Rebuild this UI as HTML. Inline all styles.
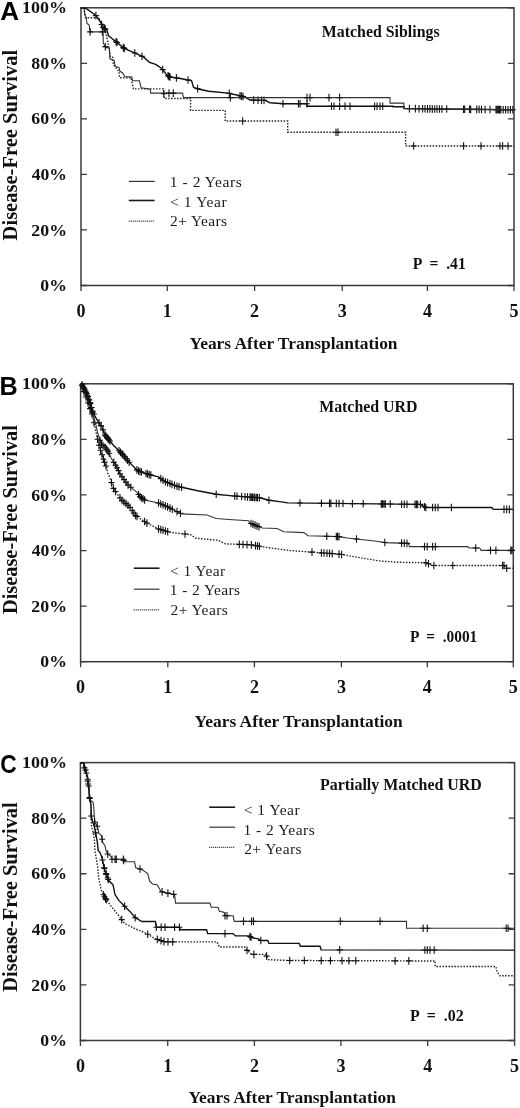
<!DOCTYPE html>
<html><head><meta charset="utf-8"><style>
html,body{margin:0;padding:0;background:#fff;}
svg{display:block;filter:grayscale(100%);}
.sb,.sr{font-family:"Liberation Serif", serif;}
.nb{font-family:"Liberation Sans", sans-serif;}
</style></head><body>
<svg width="520" height="1108" viewBox="0 0 520 1108">
<rect width="520" height="1108" fill="#fff"/>
<rect x="81" y="7.8" width="433" height="277.7" fill="none" stroke="#3a3a3a" stroke-width="1.5"/>
<path d="M81,285.5h6M514,285.5h-6" stroke="#3a3a3a" stroke-width="1.3"/>
<text x="40.39" y="291.1" font-size="17.5" font-weight="bold" class="sb" fill="#111" textLength="26.59" lengthAdjust="spacingAndGlyphs" xml:space="preserve">0%</text>
<path d="M81,229.96h6M514,229.96h-6" stroke="#3a3a3a" stroke-width="1.3"/>
<text x="31.29" y="235.56" font-size="17.5" font-weight="bold" class="sb" fill="#111" textLength="35.71" lengthAdjust="spacingAndGlyphs" xml:space="preserve">20%</text>
<path d="M81,174.42h6M514,174.42h-6" stroke="#3a3a3a" stroke-width="1.3"/>
<text x="31.74" y="180.02" font-size="17.5" font-weight="bold" class="sb" fill="#111" textLength="35.24" lengthAdjust="spacingAndGlyphs" xml:space="preserve">40%</text>
<path d="M81,118.88h6M514,118.88h-6" stroke="#3a3a3a" stroke-width="1.3"/>
<text x="31.38" y="124.48" font-size="17.5" font-weight="bold" class="sb" fill="#111" textLength="35.61" lengthAdjust="spacingAndGlyphs" xml:space="preserve">60%</text>
<path d="M81,63.34h6M514,63.34h-6" stroke="#3a3a3a" stroke-width="1.3"/>
<text x="31.38" y="68.94" font-size="17.5" font-weight="bold" class="sb" fill="#111" textLength="35.61" lengthAdjust="spacingAndGlyphs" xml:space="preserve">80%</text>
<path d="M81,7.8h6M514,7.8h-6" stroke="#3a3a3a" stroke-width="1.3"/>
<text x="22.06" y="13.4" font-size="17.5" font-weight="bold" class="sb" fill="#111" textLength="44.95" lengthAdjust="spacingAndGlyphs" xml:space="preserve">100%</text>
<path d="M81,285.5v5.5" stroke="#3a3a3a" stroke-width="1.3"/>
<text x="81" y="317.2" font-size="18" font-weight="bold" class="sb" fill="#111" text-anchor="middle">0</text>
<path d="M167.3,285.5v5.5" stroke="#3a3a3a" stroke-width="1.3"/>
<text x="167.3" y="317.2" font-size="18" font-weight="bold" class="sb" fill="#111" text-anchor="middle">1</text>
<path d="M254.6,285.5v5.5" stroke="#3a3a3a" stroke-width="1.3"/>
<text x="254.6" y="317.2" font-size="18" font-weight="bold" class="sb" fill="#111" text-anchor="middle">2</text>
<path d="M342.2,285.5v5.5" stroke="#3a3a3a" stroke-width="1.3"/>
<text x="342.2" y="317.2" font-size="18" font-weight="bold" class="sb" fill="#111" text-anchor="middle">3</text>
<path d="M427.4,285.5v5.5" stroke="#3a3a3a" stroke-width="1.3"/>
<text x="427.4" y="317.2" font-size="18" font-weight="bold" class="sb" fill="#111" text-anchor="middle">4</text>
<path d="M514,285.5v5.5" stroke="#3a3a3a" stroke-width="1.3"/>
<text x="514" y="317.2" font-size="18" font-weight="bold" class="sb" fill="#111" text-anchor="middle">5</text>
<text x="0.35" y="19.7" font-size="25" font-weight="bold" class="nb" fill="#000" textLength="18.86" lengthAdjust="spacingAndGlyphs" xml:space="preserve">A</text>
<text x="189.54" y="348.6" font-size="17" font-weight="bold" class="sb" fill="#111" textLength="208.02" lengthAdjust="spacingAndGlyphs" xml:space="preserve">Years After Transplantation</text>
<text transform="translate(16.7,240.41) rotate(-90)" x="0" y="0" font-size="21" font-weight="bold" class="sb" fill="#111" textLength="190.72" lengthAdjust="spacingAndGlyphs">Disease-Free Survival</text>
<text x="321.86" y="37.3" font-size="16" font-weight="bold" class="sb" fill="#111" textLength="117.7" lengthAdjust="spacingAndGlyphs" xml:space="preserve">Matched Siblings</text>
<text x="412.86" y="268.9" font-size="16" font-weight="bold" class="sb" fill="#111" textLength="52.93" lengthAdjust="spacingAndGlyphs" xml:space="preserve">P  =  .41</text>
<line x1="128.8" y1="181.4" x2="154.6" y2="181.4" stroke="#333" stroke-width="1.2"/>
<text x="169.77" y="186.9" font-size="15.5" font-weight="normal" class="sr" fill="#1a1a1a" textLength="71.98" lengthAdjust="spacing" xml:space="preserve">1 - 2 Years</text>
<line x1="128.8" y1="200.5" x2="154.6" y2="200.5" stroke="#1a1a1a" stroke-width="1.6"/>
<text x="169.96" y="206.6" font-size="15.5" font-weight="normal" class="sr" fill="#1a1a1a" textLength="56.7" lengthAdjust="spacing" xml:space="preserve">&lt; 1 Year</text>
<line x1="128.8" y1="221.1" x2="154.6" y2="221.1" stroke="#222" stroke-width="1.4" stroke-dasharray="1 1"/>
<text x="170.07" y="226.2" font-size="15.5" font-weight="normal" class="sr" fill="#1a1a1a" textLength="56.98" lengthAdjust="spacing" xml:space="preserve">2+ Years</text>
<rect x="80.6" y="383.8" width="432.7" height="277.9" fill="none" stroke="#3a3a3a" stroke-width="1.5"/>
<path d="M80.6,661.7h6M513.3,661.7h-6" stroke="#3a3a3a" stroke-width="1.3"/>
<text x="40.39" y="667.3" font-size="17.5" font-weight="bold" class="sb" fill="#111" textLength="26.59" lengthAdjust="spacingAndGlyphs" xml:space="preserve">0%</text>
<path d="M80.6,606.12h6M513.3,606.12h-6" stroke="#3a3a3a" stroke-width="1.3"/>
<text x="31.29" y="611.72" font-size="17.5" font-weight="bold" class="sb" fill="#111" textLength="35.71" lengthAdjust="spacingAndGlyphs" xml:space="preserve">20%</text>
<path d="M80.6,550.54h6M513.3,550.54h-6" stroke="#3a3a3a" stroke-width="1.3"/>
<text x="31.74" y="556.14" font-size="17.5" font-weight="bold" class="sb" fill="#111" textLength="35.24" lengthAdjust="spacingAndGlyphs" xml:space="preserve">40%</text>
<path d="M80.6,494.96h6M513.3,494.96h-6" stroke="#3a3a3a" stroke-width="1.3"/>
<text x="31.38" y="500.56" font-size="17.5" font-weight="bold" class="sb" fill="#111" textLength="35.61" lengthAdjust="spacingAndGlyphs" xml:space="preserve">60%</text>
<path d="M80.6,439.38h6M513.3,439.38h-6" stroke="#3a3a3a" stroke-width="1.3"/>
<text x="31.38" y="444.98" font-size="17.5" font-weight="bold" class="sb" fill="#111" textLength="35.61" lengthAdjust="spacingAndGlyphs" xml:space="preserve">80%</text>
<path d="M80.6,383.8h6M513.3,383.8h-6" stroke="#3a3a3a" stroke-width="1.3"/>
<text x="22.06" y="389.4" font-size="17.5" font-weight="bold" class="sb" fill="#111" textLength="44.95" lengthAdjust="spacingAndGlyphs" xml:space="preserve">100%</text>
<path d="M80.6,661.7v5.5" stroke="#3a3a3a" stroke-width="1.3"/>
<text x="80.6" y="692.8" font-size="18" font-weight="bold" class="sb" fill="#111" text-anchor="middle">0</text>
<path d="M167.8,661.7v5.5" stroke="#3a3a3a" stroke-width="1.3"/>
<text x="167.8" y="692.8" font-size="18" font-weight="bold" class="sb" fill="#111" text-anchor="middle">1</text>
<path d="M254.4,661.7v5.5" stroke="#3a3a3a" stroke-width="1.3"/>
<text x="254.4" y="692.8" font-size="18" font-weight="bold" class="sb" fill="#111" text-anchor="middle">2</text>
<path d="M341.4,661.7v5.5" stroke="#3a3a3a" stroke-width="1.3"/>
<text x="341.4" y="692.8" font-size="18" font-weight="bold" class="sb" fill="#111" text-anchor="middle">3</text>
<path d="M427.3,661.7v5.5" stroke="#3a3a3a" stroke-width="1.3"/>
<text x="427.3" y="692.8" font-size="18" font-weight="bold" class="sb" fill="#111" text-anchor="middle">4</text>
<path d="M513.3,661.7v5.5" stroke="#3a3a3a" stroke-width="1.3"/>
<text x="513.3" y="692.8" font-size="18" font-weight="bold" class="sb" fill="#111" text-anchor="middle">5</text>
<text x="-0.44" y="394.6" font-size="25" font-weight="bold" class="nb" fill="#000" textLength="18.23" lengthAdjust="spacingAndGlyphs" xml:space="preserve">B</text>
<text x="194.54" y="726.8" font-size="17" font-weight="bold" class="sb" fill="#111" textLength="208.22" lengthAdjust="spacingAndGlyphs" xml:space="preserve">Years After Transplantation</text>
<text transform="translate(16.7,614.01) rotate(-90)" x="0" y="0" font-size="21" font-weight="bold" class="sb" fill="#111" textLength="188.91" lengthAdjust="spacingAndGlyphs">Disease-Free Survival</text>
<text x="319.16" y="411.9" font-size="16" font-weight="bold" class="sb" fill="#111" textLength="98.31" lengthAdjust="spacingAndGlyphs" xml:space="preserve">Matched URD</text>
<text x="409.97" y="641.5" font-size="16" font-weight="bold" class="sb" fill="#111" textLength="67.31" lengthAdjust="spacingAndGlyphs" xml:space="preserve">P  =  .0001</text>
<line x1="133.8" y1="568.2" x2="159.5" y2="568.2" stroke="#1a1a1a" stroke-width="1.6"/>
<text x="169.98" y="576.2" font-size="15.5" font-weight="normal" class="sr" fill="#1a1a1a" textLength="55.18" lengthAdjust="spacing" xml:space="preserve">&lt; 1 Year</text>
<line x1="133.8" y1="589.2" x2="159.5" y2="589.2" stroke="#333" stroke-width="1.2"/>
<text x="169.8" y="595.1" font-size="15.5" font-weight="normal" class="sr" fill="#1a1a1a" textLength="70.34" lengthAdjust="spacing" xml:space="preserve">1 - 2 Years</text>
<line x1="133.8" y1="609.9" x2="159.5" y2="609.9" stroke="#222" stroke-width="1.4" stroke-dasharray="1 1"/>
<text x="170.46" y="614.6" font-size="15.5" font-weight="normal" class="sr" fill="#1a1a1a" textLength="57.39" lengthAdjust="spacing" xml:space="preserve">2+ Years</text>
<rect x="80.4" y="762.6" width="434.2" height="277.9" fill="none" stroke="#3a3a3a" stroke-width="1.5"/>
<path d="M80.4,1040.5h6M514.6,1040.5h-6" stroke="#3a3a3a" stroke-width="1.3"/>
<text x="40.39" y="1046.1" font-size="17.5" font-weight="bold" class="sb" fill="#111" textLength="26.59" lengthAdjust="spacingAndGlyphs" xml:space="preserve">0%</text>
<path d="M80.4,984.92h6M514.6,984.92h-6" stroke="#3a3a3a" stroke-width="1.3"/>
<text x="31.29" y="990.52" font-size="17.5" font-weight="bold" class="sb" fill="#111" textLength="35.71" lengthAdjust="spacingAndGlyphs" xml:space="preserve">20%</text>
<path d="M80.4,929.34h6M514.6,929.34h-6" stroke="#3a3a3a" stroke-width="1.3"/>
<text x="31.74" y="934.94" font-size="17.5" font-weight="bold" class="sb" fill="#111" textLength="35.24" lengthAdjust="spacingAndGlyphs" xml:space="preserve">40%</text>
<path d="M80.4,873.76h6M514.6,873.76h-6" stroke="#3a3a3a" stroke-width="1.3"/>
<text x="31.38" y="879.36" font-size="17.5" font-weight="bold" class="sb" fill="#111" textLength="35.61" lengthAdjust="spacingAndGlyphs" xml:space="preserve">60%</text>
<path d="M80.4,818.18h6M514.6,818.18h-6" stroke="#3a3a3a" stroke-width="1.3"/>
<text x="31.38" y="823.78" font-size="17.5" font-weight="bold" class="sb" fill="#111" textLength="35.61" lengthAdjust="spacingAndGlyphs" xml:space="preserve">80%</text>
<path d="M80.4,762.6h6M514.6,762.6h-6" stroke="#3a3a3a" stroke-width="1.3"/>
<text x="22.06" y="768.2" font-size="17.5" font-weight="bold" class="sb" fill="#111" textLength="44.95" lengthAdjust="spacingAndGlyphs" xml:space="preserve">100%</text>
<path d="M80.4,1040.5v5.5" stroke="#3a3a3a" stroke-width="1.3"/>
<text x="80.4" y="1071.5" font-size="18" font-weight="bold" class="sb" fill="#111" text-anchor="middle">0</text>
<path d="M167.7,1040.5v5.5" stroke="#3a3a3a" stroke-width="1.3"/>
<text x="167.7" y="1071.5" font-size="18" font-weight="bold" class="sb" fill="#111" text-anchor="middle">1</text>
<path d="M254.4,1040.5v5.5" stroke="#3a3a3a" stroke-width="1.3"/>
<text x="254.4" y="1071.5" font-size="18" font-weight="bold" class="sb" fill="#111" text-anchor="middle">2</text>
<path d="M340.9,1040.5v5.5" stroke="#3a3a3a" stroke-width="1.3"/>
<text x="340.9" y="1071.5" font-size="18" font-weight="bold" class="sb" fill="#111" text-anchor="middle">3</text>
<path d="M427.7,1040.5v5.5" stroke="#3a3a3a" stroke-width="1.3"/>
<text x="427.7" y="1071.5" font-size="18" font-weight="bold" class="sb" fill="#111" text-anchor="middle">4</text>
<path d="M514.6,1040.5v5.5" stroke="#3a3a3a" stroke-width="1.3"/>
<text x="514.6" y="1071.5" font-size="18" font-weight="bold" class="sb" fill="#111" text-anchor="middle">5</text>
<text x="0.29" y="773.1" font-size="25" font-weight="bold" class="nb" fill="#000" textLength="16.43" lengthAdjust="spacingAndGlyphs" xml:space="preserve">C</text>
<text x="188.44" y="1102.7" font-size="17" font-weight="bold" class="sb" fill="#111" textLength="207.42" lengthAdjust="spacingAndGlyphs" xml:space="preserve">Years After Transplantation</text>
<text transform="translate(16.7,991.71) rotate(-90)" x="0" y="0" font-size="21" font-weight="bold" class="sb" fill="#111" textLength="189.42" lengthAdjust="spacingAndGlyphs">Disease-Free Survival</text>
<text x="319.96" y="790.4" font-size="16" font-weight="bold" class="sb" fill="#111" textLength="161.93" lengthAdjust="spacingAndGlyphs" xml:space="preserve">Partially Matched URD</text>
<text x="409.96" y="1021" font-size="16" font-weight="bold" class="sb" fill="#111" textLength="53.68" lengthAdjust="spacingAndGlyphs" xml:space="preserve">P  =  .02</text>
<line x1="209.2" y1="807.2" x2="235.1" y2="807.2" stroke="#1a1a1a" stroke-width="1.6"/>
<text x="243.67" y="815.2" font-size="15.5" font-weight="normal" class="sr" fill="#1a1a1a" textLength="55.99" lengthAdjust="spacing" xml:space="preserve">&lt; 1 Year</text>
<line x1="209.2" y1="827.2" x2="235.1" y2="827.2" stroke="#333" stroke-width="1.2"/>
<text x="243.48" y="834.6" font-size="15.5" font-weight="normal" class="sr" fill="#1a1a1a" textLength="71.26" lengthAdjust="spacing" xml:space="preserve">1 - 2 Years</text>
<line x1="209.2" y1="847.4" x2="235.1" y2="847.4" stroke="#222" stroke-width="1.4" stroke-dasharray="1 1"/>
<text x="244.16" y="853.7" font-size="15.5" font-weight="normal" class="sr" fill="#1a1a1a" textLength="57.49" lengthAdjust="spacing" xml:space="preserve">2+ Years</text>
<path d="M80.5,8 86,8.5 95.4,15 100,21.2 103,27.3 106.9,30.4 108.5,35.8 112.3,38.8 116.2,41.9 124.1,48.3 135.7,53.4 143.4,56.9 149.5,62.3 155.7,64.3 161.8,68.5 166.5,74.6 169.5,76.9 180.3,78.5 188,80 191.5,80.6 193.5,87.3 199.2,89.2 208.8,91.2 228,93.1 239,95.5 245,97 250,100 265,100.4 270,102.7 284,103.8 307,103.8 307,106.3 393,106.3 393,106.8 404,106.8 404,108.5 440,109 514,109.8" fill="none" stroke="#111" stroke-width="1.4"/>
<path d="M95.9,11.87v7.6M92.9,15.67h6M101.6,20.65v7.6M98.6,24.45h6M103,23.5v7.6M100,27.3h6M104.5,24.69v7.6M101.5,28.49h6M105.3,25.33v7.6M102.3,29.13h6M116,37.94v7.6M113,41.74h6M117,38.75v7.6M114,42.55h6M123.3,43.85v7.6M120.3,47.65h6M124.3,44.59v7.6M121.3,48.39h6M134.8,49.2v7.6M131.8,53h6M142,52.46v7.6M139,56.26h6M162.7,65.87v7.6M159.7,69.67h6M168,71.95v7.6M165,75.75h6M169,72.72v7.6M166,76.52h6M170,73.17v7.6M167,76.97h6M176.4,74.12v7.6M173.4,77.92h6M188,76.2v7.6M185,80h6M197.6,84.87v7.6M194.6,88.67h6M229.3,89.58v7.6M226.3,93.38h6M240,91.95v7.6M237,95.75h6M241.5,92.33v7.6M238.5,96.12h6M243,92.7v7.6M240,96.5h6M253.7,96.3v7.6M250.7,100.1h6M258,96.41v7.6M255,100.21h6M261.5,96.51v7.6M258.5,100.31h6M264,96.57v7.6M261,100.37h6M283,99.92v7.6M280,103.72h6M298.5,100v7.6M295.5,103.8h6M300,100v7.6M297,103.8h6M307,100v7.6M304,103.8h6M331.5,102.5v7.6M328.5,106.3h6M334,102.5v7.6M331,106.3h6M339.6,102.5v7.6M336.6,106.3h6M345,102.5v7.6M342,106.3h6M350,102.5v7.6M347,106.3h6M374.6,102.5v7.6M371.6,106.3h6M377,102.5v7.6M374,106.3h6M380,102.5v7.6M377,106.3h6M382.7,102.5v7.6M379.7,106.3h6M409.4,104.78v7.6M406.4,108.58h6M415.4,104.86v7.6M412.4,108.66h6M419,104.91v7.6M416,108.71h6M422.6,104.96v7.6M419.6,108.76h6M425,104.99v7.6M422,108.79h6M427.5,105.03v7.6M424.5,108.83h6M429.9,105.06v7.6M426.9,108.86h6M432.3,105.09v7.6M429.3,108.89h6M434.7,105.13v7.6M431.7,108.93h6M437,105.16v7.6M434,108.96h6M439.5,105.19v7.6M436.5,108.99h6M441.9,105.22v7.6M438.9,109.02h6M446.7,105.27v7.6M443.7,109.07h6M463.5,105.45v7.6M460.5,109.25h6M464.7,105.47v7.6M461.7,109.27h6M469.5,105.52v7.6M466.5,109.32h6M470.7,105.53v7.6M467.7,109.33h6M476.7,105.6v7.6M473.7,109.4h6M479.1,105.62v7.6M476.1,109.42h6M481.5,105.65v7.6M478.5,109.45h6M485.1,105.69v7.6M482.1,109.49h6M490,105.74v7.6M487,109.54h6M496,105.81v7.6M493,109.61h6M497.2,105.82v7.6M494.2,109.62h6M498.4,105.83v7.6M495.4,109.63h6M499.6,105.84v7.6M496.6,109.64h6M500.8,105.86v7.6M497.8,109.66h6M503.2,105.88v7.6M500.2,109.68h6M505.6,105.91v7.6M502.6,109.71h6M508,105.94v7.6M505,109.74h6M510.4,105.96v7.6M507.4,109.76h6M512.8,105.99v7.6M509.8,109.79h6" stroke="#111" stroke-width="1.1" fill="none"/>
<path d="M80.5,8 84.2,8.5 84.6,14.2 86.2,17.3 86.9,23.5 89.2,25 90,31.9 103.1,31.9 103.3,43 105.7,47.4 109.4,48.2 109.9,58.8 114.2,60.7 115.2,66.5 119,67.4 120,71.3 122.9,73.2 124.8,76.5 131.8,76.9 132.6,80.8 139.5,80.8 141.1,87.7 150.3,89.2 150.8,93.1 182.6,93.1 183.4,97.6 390,97.6 390,103.1 403.8,103.1 403.8,108.5 514,109.8" fill="none" stroke="#333" stroke-width="1.1"/>
<path d="M90.1,28.1v7.6M87.1,31.9h6M102.4,28.1v7.6M99.4,31.9h6M105.3,42.87v7.6M102.3,46.67h6M169,89.3v7.6M166,93.1h6M173.3,89.3v7.6M170.3,93.1h6M230.4,93.8v7.6M227.4,97.6h6M307,93.8v7.6M304,97.6h6M310,93.8v7.6M307,97.6h6M329,93.8v7.6M326,97.6h6M339.6,93.8v7.6M336.6,97.6h6" stroke="#111" stroke-width="1.1" fill="none"/>
<path d="M80.5,8 84,8.5 85.5,17.7 99,17.7 101,24 105.6,31.8 107.5,40.5 109.4,50.1 110.4,56.8 112.8,57.3 113.3,64.5 119,71.3 119.5,77.7 131,77.7 133.4,88.9 163.4,88.9 164.2,98.5 190.6,98.5 190.6,110.4 225.2,110.4 225.2,121 287.7,121 287.7,132.3 405.6,132.3 405.6,146 514,146" fill="none" stroke="#222" stroke-width="1.4" stroke-dasharray="1.5 1.5"/>
<path d="M163.8,89.9v7.6M160.8,93.7h6M242.7,117.2v7.6M239.7,121h6M336,128.5v7.6M333,132.3h6M338,128.5v7.6M335,132.3h6M413.7,142.2v7.6M410.7,146h6M463.6,142.2v7.6M460.6,146h6M481,142.2v7.6M478,146h6M500,142.2v7.6M497,146h6M502.6,142.2v7.6M499.6,146h6M508,142.2v7.6M505,146h6" stroke="#111" stroke-width="1.1" fill="none"/>
<path d="M81,383.8 84,388 87,394 90,402 92.3,410 95,416.4 98.5,422.2 101.9,426.8 104.8,434.9 108.8,439.5 113.4,445.3 119.2,451 123.8,455.7 128.4,461.4 134.2,467.2 137.7,470.7 149.2,474.6 158.5,476.9 164.6,481.5 176.9,486.2 181.6,487.3 197.7,490.8 216.2,494.2 232.4,495.9 260,497.8 268.9,500.2 279.6,501.6 287.7,502.9 420.4,504.4 425.8,507.5 491.9,507.5 493.2,509.4 513.2,509.4" fill="none" stroke="#111" stroke-width="1.4"/>
<path d="M82,381.4v7.6M79,385.2h6M83.2,383.08v7.6M80.2,386.88h6M84.4,385v7.6M81.4,388.8h6M85.6,387.4v7.6M82.6,391.2h6M86.8,389.8v7.6M83.8,393.6h6M88,392.87v7.6M85,396.67h6M89.2,396.07v7.6M86.2,399.87h6M90.4,399.59v7.6M87.4,403.39h6M91.6,403.77v7.6M88.6,407.57h6M92.8,407.39v7.6M89.8,411.19h6M94,410.23v7.6M91,414.03h6M99,419.08v7.6M96,422.88h6M101,421.78v7.6M98,425.58h6M103,426.07v7.6M100,429.87h6M105,431.33v7.6M102,435.13h6M106,432.48v7.6M103,436.28h6M107,433.63v7.6M104,437.43h6M108,434.78v7.6M105,438.58h6M109,435.95v7.6M106,439.75h6M110,437.21v7.6M107,441.01h6M119,447v7.6M116,450.8h6M120.5,448.53v7.6M117.5,452.33h6M122,450.06v7.6M119,453.86h6M123,451.08v7.6M120,454.88h6M124.5,452.77v7.6M121.5,456.57h6M126,454.63v7.6M123,458.43h6M127.5,456.48v7.6M124.5,460.28h6M129.2,458.4v7.6M126.2,462.2h6M136.9,466.1v7.6M133.9,469.9h6M138.5,467.17v7.6M135.5,470.97h6M140,467.68v7.6M137,471.48h6M141.5,468.19v7.6M138.5,471.99h6M146,469.71v7.6M143,473.51h6M147.5,470.22v7.6M144.5,474.02h6M149.2,470.8v7.6M146.2,474.6h6M150.8,471.2v7.6M147.8,475h6M160.8,474.83v7.6M157.8,478.63h6M163,476.49v7.6M160,480.29h6M165.4,478.01v7.6M162.4,481.81h6M167.6,478.85v7.6M164.6,482.65h6M170,479.76v7.6M167,483.56h6M172,480.53v7.6M169,484.33h6M174.5,481.48v7.6M171.5,485.28h6M177,482.42v7.6M174,486.22h6M179,482.89v7.6M176,486.69h6M181.6,483.5v7.6M178.6,487.3h6M216.2,490.4v7.6M213.2,494.2h6M234.7,492.26v7.6M231.7,496.06h6M237,492.42v7.6M234,496.22h6M241.6,492.73v7.6M238.6,496.53h6M245,492.97v7.6M242,496.77h6M247.5,493.14v7.6M244.5,496.94h6M250,493.31v7.6M247,497.11h6M252.5,493.48v7.6M249.5,497.28h6M255,493.66v7.6M252,497.46h6M257.5,493.83v7.6M254.5,497.63h6M251.3,493.4v7.6M248.3,497.2h6M254,493.59v7.6M251,497.39h6M256.7,493.77v7.6M253.7,497.57h6M259.4,493.96v7.6M256.4,497.76h6M268.9,496.4v7.6M265.9,500.2h6M299.9,499.24v7.6M296.9,503.04h6M321.4,499.48v7.6M318.4,503.28h6M329.5,499.57v7.6M326.5,503.37h6M330.9,499.59v7.6M327.9,503.39h6M336.3,499.65v7.6M333.3,503.45h6M339,499.68v7.6M336,503.48h6M343,499.73v7.6M340,503.53h6M352.4,499.83v7.6M349.4,503.63h6M363.2,499.95v7.6M360.2,503.75h6M382.1,500.17v7.6M379.1,503.97h6M384.8,500.2v7.6M381.8,504h6M381.3,500.16v7.6M378.3,503.96h6M383.2,500.18v7.6M380.2,503.98h6M385.4,500.2v7.6M382.4,504h6M390.2,500.26v7.6M387.2,504.06h6M401.6,500.39v7.6M398.6,504.19h6M404.3,500.42v7.6M401.3,504.22h6M407,500.45v7.6M404,504.25h6M415,500.54v7.6M412,504.34h6M416.4,500.55v7.6M413.4,504.35h6M417.7,500.57v7.6M414.7,504.37h6M420.4,500.6v7.6M417.4,504.4h6M424.5,502.95v7.6M421.5,506.75h6M425.8,503.7v7.6M422.8,507.5h6M432.6,503.7v7.6M429.6,507.5h6M435.3,503.7v7.6M432.3,507.5h6M438,503.7v7.6M435,507.5h6M451.4,503.7v7.6M448.4,507.5h6M504,505.6v7.6M501,509.4h6M506.7,505.6v7.6M503.7,509.4h6M509.4,505.6v7.6M506.4,509.4h6" stroke="#111" stroke-width="1.1" fill="none"/>
<path d="M81,383.8 84,388.5 87,395 90,403 92.3,412.3 93.8,417.6 96.1,425.7 97.3,431.4 99,437.2 101.3,444.1 105.4,447.6 108.8,452.2 111.1,458 114.6,463.7 118.1,469.5 120,474 127.7,484.6 136.9,492.3 140,496.6 144.6,500 158.5,503 166.2,506.2 172.3,509.3 181.6,513.9 207,515 216.2,518.5 232.4,519.7 248.5,520.8 250,523.1 262.1,528 277,528.5 283.7,531.8 303.9,532.6 308,535.8 339,536.6 347,538 363.2,539.8 376.7,541.2 385.4,542.6 408.3,543.4 409.6,546.6 467.6,546.6 469,548 479.7,548 481.1,550.4 513.2,550.4" fill="none" stroke="#333" stroke-width="1.1"/>
<path d="M82,381.57v7.6M79,385.37h6M83.3,383.6v7.6M80.3,387.4h6M84.6,386v7.6M81.6,389.8h6M85.9,388.82v7.6M82.9,392.62h6M87.2,391.73v7.6M84.2,395.53h6M88.5,395.2v7.6M85.5,399h6M89.8,398.67v7.6M86.8,402.47h6M91.1,403.65v7.6M88.1,407.45h6M92.4,408.85v7.6M89.4,412.65h6M100,436.4v7.6M97,440.2h6M101.5,440.47v7.6M98.5,444.27h6M103,441.75v7.6M100,445.55h6M105,443.46v7.6M102,447.26h6M106.5,445.29v7.6M103.5,449.09h6M108,447.32v7.6M105,451.12h6M109.2,449.41v7.6M106.2,453.21h6M113.8,458.6v7.6M110.8,462.4h6M115.5,461.39v7.6M112.5,465.19h6M117,463.88v7.6M114,467.68h6M118.5,466.65v7.6M115.5,470.45h6M120,470.2v7.6M117,474h6M122,472.95v7.6M119,476.75h6M124,475.71v7.6M121,479.51h6M126,478.46v7.6M123,482.26h6M128,481.05v7.6M125,484.85h6M130.8,483.39v7.6M127.8,487.19h6M138.5,490.72v7.6M135.5,494.52h6M140,492.8v7.6M137,496.6h6M141.5,493.91v7.6M138.5,497.71h6M143,495.02v7.6M140,498.82h6M144.6,496.2v7.6M141.6,500h6M158.5,499.2v7.6M155.5,503h6M160.8,500.16v7.6M157.8,503.96h6M163,501.07v7.6M160,504.87h6M165.4,502.07v7.6M162.4,505.87h6M167.6,503.11v7.6M164.6,506.91h6M170,504.33v7.6M167,508.13h6M172.3,505.5v7.6M169.3,509.3h6M177,507.82v7.6M174,511.62h6M180.4,509.51v7.6M177.4,513.31h6M251,519.7v7.6M248,523.5h6M253,520.51v7.6M250,524.31h6M255,521.32v7.6M252,525.12h6M257,522.13v7.6M254,525.93h6M259,522.94v7.6M256,526.74h6M326.8,532.49v7.6M323.8,536.29h6M336.3,532.73v7.6M333.3,536.53h6M337.5,532.76v7.6M334.5,536.56h6M339,532.8v7.6M336,536.6h6M356.5,535.26v7.6M353.5,539.06h6M384.8,538.7v7.6M381.8,542.5h6M401.6,539.37v7.6M398.6,543.17h6M404.3,539.46v7.6M401.3,543.26h6M407,539.55v7.6M404,543.35h6M424.5,542.8v7.6M421.5,546.6h6M427.2,542.8v7.6M424.2,546.6h6M432.6,542.8v7.6M429.6,546.6h6M435.3,542.8v7.6M432.3,546.6h6M475.7,544.2v7.6M472.7,548h6M490.5,546.6v7.6M487.5,550.4h6M495.9,546.6v7.6M492.9,550.4h6M510.7,546.6v7.6M507.7,550.4h6M512,546.6v7.6M509,550.4h6" stroke="#111" stroke-width="1.1" fill="none"/>
<path d="M81,383.8 83,389 86,397 89,406 92,414 94.5,425 96,432 97.3,438.4 99.6,447.6 101.9,454.5 104.2,461.4 106.5,467.2 107.7,473 109.2,476 113.8,489.2 121.5,500 129.2,506.2 135.4,515.4 140,518.5 146.9,523.1 158.5,528.9 170,532.4 190.8,534.7 195.4,538.1 218.5,540.4 225.5,543.9 250,544.7 266.2,547.4 290.4,550.6 339,554.1 363.2,558.2 379.4,560.9 396.2,562.2 425.8,562.8 433.9,565.5 504,565.5 506.7,568.2 513.2,568.2" fill="none" stroke="#222" stroke-width="1.4" stroke-dasharray="1.5 1.5"/>
<path d="M84,387.87v7.6M81,391.67h6M86,393.2v7.6M83,397h6M88,399.2v7.6M85,403h6M90,404.87v7.6M87,408.67h6M92,410.2v7.6M89,414h6M94,419v7.6M91,422.8h6M97.5,435.4v7.6M94.5,439.2h6M99,441.4v7.6M96,445.2h6M100.5,446.5v7.6M97.5,450.3h6M102,451v7.6M99,454.8h6M103.5,455.5v7.6M100.5,459.3h6M104.5,458.36v7.6M101.5,462.16h6M106,462.14v7.6M103,465.94h6M111.5,478.8v7.6M108.5,482.6h6M113.5,484.54v7.6M110.5,488.34h6M115.4,487.64v7.6M112.4,491.44h6M120,494.1v7.6M117,497.9h6M122,496.6v7.6M119,500.4h6M124,498.21v7.6M121,502.01h6M126,499.82v7.6M123,503.62h6M128,501.43v7.6M125,505.23h6M130,503.59v7.6M127,507.39h6M132.3,507v7.6M129.3,510.8h6M133.8,509.23v7.6M130.8,513.03h6M135.5,511.67v7.6M132.5,515.47h6M137,512.68v7.6M134,516.48h6M144.6,517.77v7.6M141.6,521.57h6M146.9,519.3v7.6M143.9,523.1h6M158.5,525.1v7.6M155.5,528.9h6M160.8,525.8v7.6M157.8,529.6h6M163,526.47v7.6M160,530.27h6M165.4,527.2v7.6M162.4,531h6M167.7,527.9v7.6M164.7,531.7h6M185,530.26v7.6M182,534.06h6M239.3,540.55v7.6M236.3,544.35h6M243,540.67v7.6M240,544.47h6M247,540.8v7.6M244,544.6h6M251.3,541.12v7.6M248.3,544.92h6M255.5,541.82v7.6M252.5,545.62h6M257.5,542.15v7.6M254.5,545.95h6M259.4,542.47v7.6M256.4,546.27h6M312,548.36v7.6M309,552.16h6M321.4,549.03v7.6M318.4,552.83h6M324,549.22v7.6M321,553.02h6M327,549.44v7.6M324,553.24h6M329.5,549.62v7.6M326.5,553.42h6M332.2,549.81v7.6M329.2,553.61h6M339,550.3v7.6M336,554.1h6M341.6,550.74v7.6M338.6,554.54h6M425.8,559v7.6M422.8,562.8h6M428.5,559.9v7.6M425.5,563.7h6M433.9,561.7v7.6M430.9,565.5h6M452.8,561.7v7.6M449.8,565.5h6M502.6,561.7v7.6M499.6,565.5h6M504,561.7v7.6M501,565.5h6M506.7,564.4v7.6M503.7,568.2h6" stroke="#111" stroke-width="1.1" fill="none"/>
<path d="M80.7,762.6 83.8,763.5 83.8,767.5 84.9,768.1 86.1,771.5 86.7,774.4 87.5,777.3 87.8,783.1 88.7,786 89,790 89.5,797.5 90.4,800.4 93,802.1 93.8,807.3 94.3,816 94.7,822 97.3,826.3 99,833.3 101.6,835.8 102.5,841.9 105.1,846.2 106,850.6 107.7,854 111.1,856.6 112,859.2 123.3,859.2 124.1,861.8 134.5,861.8 135.8,867.7 141.9,869.6 147.7,873.5 149.6,881.2 152.5,884 157.3,885 161.2,891.7 174.6,894.6 175.6,903.1 210,903.1 211.2,907.3 218.1,907.3 219.3,911.2 223.9,912.3 225,915.8 233.1,915.8 234.3,921.4 406.5,921.4 406.5,928.2 514.5,928.2" fill="none" stroke="#333" stroke-width="1.1"/>
<path d="M84.5,764.08v7.6M81.5,767.88h6M85.6,766.28v7.6M82.6,770.08h6M86.4,769.15v7.6M83.4,772.95h6M87.6,775.43v7.6M84.6,779.23h6M87.7,777.37v7.6M84.7,781.17h6M88.1,780.27v7.6M85.1,784.07h6M88.7,782.2v7.6M85.7,786h6M89.5,793.7v7.6M86.5,797.5h6M89.8,794.67v7.6M86.8,798.47h6M94.7,818.2v7.6M91.7,822h6M97.3,822.5v7.6M94.3,826.3h6M102.1,835.39v7.6M99.1,839.19h6M107.7,850.2v7.6M104.7,854h6M112,855.4v7.6M109,859.2h6M115,855.4v7.6M112,859.2h6M116.3,855.4v7.6M113.3,859.2h6M123.3,855.4v7.6M120.3,859.2h6M123.7,856.7v7.6M120.7,860.5h6M140,865.21v7.6M137,869.01h6M162.1,888.09v7.6M159.1,891.89h6M167.9,889.35v7.6M164.9,893.15h6M173.7,890.61v7.6M170.7,894.41h6M225,912v7.6M222,915.8h6M227,912v7.6M224,915.8h6M243.5,917.6v7.6M240.5,921.4h6M251.6,917.6v7.6M248.6,921.4h6M253.5,917.6v7.6M250.5,921.4h6M340.3,917.6v7.6M337.3,921.4h6M380.1,917.6v7.6M377.1,921.4h6M423.1,924.4v7.6M420.1,928.2h6M427.3,924.4v7.6M424.3,928.2h6M506.2,924.4v7.6M503.2,928.2h6M508.1,924.4v7.6M505.1,928.2h6" stroke="#111" stroke-width="1.1" fill="none"/>
<path d="M80.7,762.6 83.8,763.5 83.8,767.5 84.9,768.1 86.1,771.5 86.7,774.4 87.5,777.3 87.8,783.1 88.7,786 89,790 89.5,797.5 90.4,800.4 91,807 91.2,816 93,822.9 94.7,828.1 96,835 97.3,841.9 98.2,850.6 99.9,852.3 101.6,856.6 102.5,860 103.8,866.1 105.1,871.3 106.8,875.6 108.5,880 113.1,885 115,894.6 118.8,900.4 124.6,906.2 130.4,911.9 135.2,917.7 141.9,921.5 155.4,921.5 156.3,927.3 179.4,927.3 180.4,929.7 206.6,929.7 207.7,933.6 233.1,933.6 235.4,935.9 249.3,935.9 251.6,937.7 258.5,938.9 260.8,940.5 267.8,940.5 268.9,943.4 299.2,943.4 300.4,946.2 320,946.2 321.2,949.9 514.5,950.1" fill="none" stroke="#111" stroke-width="1.4"/>
<path d="M95.6,829.08v7.6M92.6,832.88h6M102.5,856.2v7.6M99.5,860h6M104.2,863.9v7.6M101.2,867.7h6M104.4,864.7v7.6M101.4,868.5h6M106,869.78v7.6M103,873.58h6M106.3,870.54v7.6M103.3,874.34h6M107.7,874.13v7.6M104.7,877.93h6M108.3,875.68v7.6M105.3,879.48h6M124.6,902.4v7.6M121.6,906.2h6M135.2,913.9v7.6M132.2,917.7h6M156.3,923.5v7.6M153.3,927.3h6M161.2,923.5v7.6M158.2,927.3h6M165,923.5v7.6M162,927.3h6M174.6,923.5v7.6M171.6,927.3h6M179.4,923.5v7.6M176.4,927.3h6M225,929.8v7.6M222,933.6h6M250,932.65v7.6M247,936.45h6M251,933.43v7.6M248,937.23h6M260.8,936.7v7.6M257.8,940.5h6M339.7,946.12v7.6M336.7,949.92h6M424.9,946.21v7.6M421.9,950.01h6M427.3,946.21v7.6M424.3,950.01h6M430,946.21v7.6M427,950.01h6M434.2,946.22v7.6M431.2,950.02h6" stroke="#111" stroke-width="1.1" fill="none"/>
<path d="M80.7,762.6 83.8,763.5 83.8,767.5 84.9,768.1 86.1,771.5 86.7,774.4 87.5,777.3 87.8,783.1 88.7,786 89,790 89.5,797.5 90.4,800.4 91,807 91.2,816 91.5,826.3 93,831.5 94.3,838.4 94.7,845.4 95.1,852.3 96.4,859.2 97.3,864.4 98.2,872.2 99,880 101.5,890.8 105.4,898.5 111.2,906.2 118.8,915.8 124.6,923.5 136.2,929.2 145.8,933.1 155.4,938.8 165,941.9 217,941.9 219.3,947 244.7,947 247,950.4 251.6,954.4 265.5,954.4 268.9,959.7 290,960.5 435.1,961 435.1,966.5 495.8,966.5 497,971.6 499.8,975.8 514.5,975.8" fill="none" stroke="#222" stroke-width="1.4" stroke-dasharray="1.5 1.5"/>
<path d="M91.2,812.2v7.6M88.2,816h6M103.5,890.95v7.6M100.5,894.75h6M104.5,892.92v7.6M101.5,896.72h6M105.5,894.83v7.6M102.5,898.63h6M106.3,895.89v7.6M103.3,899.69h6M121.7,915.85v7.6M118.7,919.65h6M147.7,930.43v7.6M144.7,934.23h6M157.3,935.61v7.6M154.3,939.41h6M161,936.81v7.6M158,940.61h6M164,937.78v7.6M161,941.58h6M168,938.1v7.6M165,941.9h6M172.7,938.1v7.6M169.7,941.9h6M247,946.6v7.6M244,950.4h6M253.9,950.6v7.6M250.9,954.4h6M266.6,952.31v7.6M263.6,956.11h6M289.7,956.69v7.6M286.7,960.49h6M304.3,956.75v7.6M301.3,960.55h6M321.2,956.81v7.6M318.2,960.61h6M330.4,956.84v7.6M327.4,960.64h6M342,956.88v7.6M339,960.68h6M348.9,956.9v7.6M345.9,960.7h6M355.8,956.93v7.6M352.8,960.73h6M395.1,957.06v7.6M392.1,960.86h6M408.8,957.11v7.6M405.8,960.91h6" stroke="#111" stroke-width="1.1" fill="none"/>
</svg></body></html>
